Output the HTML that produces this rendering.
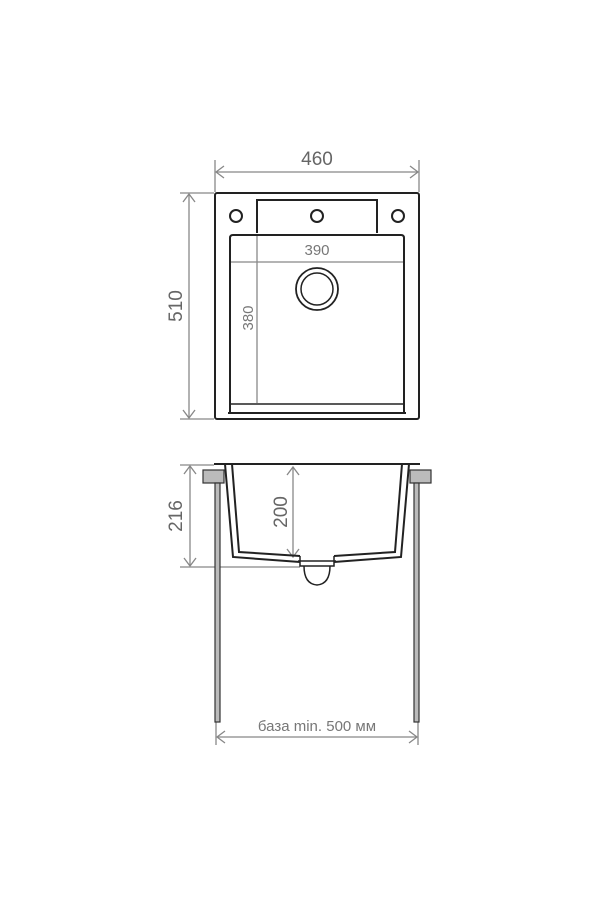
<!DOCTYPE html>
<html><head><meta charset="utf-8"><style>body{margin:0;background:#fff}svg{display:block}</style></head><body>
<svg width="600" height="900" viewBox="0 0 600 900" xmlns="http://www.w3.org/2000/svg" font-family="Liberation Sans, sans-serif">
<g stroke="#888" stroke-width="1.3" fill="none">
<line x1="215" y1="160" x2="215" y2="192"/><line x1="419" y1="160" x2="419" y2="192"/>
<line x1="216" y1="172" x2="418" y2="172"/>
<polyline points="224,166 216,172 224,178"/><polyline points="410,166 418,172 410,178"/>
<line x1="180" y1="193" x2="214" y2="193"/><line x1="180" y1="419" x2="214" y2="419"/>
<line x1="189" y1="194" x2="189" y2="418"/>
<polyline points="183,202 189,194 195,202"/><polyline points="183,410 189,418 195,410"/>
<line x1="231" y1="262" x2="403" y2="262"/>
<line x1="257" y1="236" x2="257" y2="403"/>
<line x1="180" y1="465" x2="214" y2="465"/><line x1="180" y1="567" x2="300" y2="567"/>
<line x1="190" y1="466" x2="190" y2="566"/>
<polyline points="184,474 190,466 196,474"/><polyline points="184,558 190,566 196,558"/>
<line x1="293" y1="467" x2="293" y2="557"/>
<polyline points="287,475 293,467 299,475"/><polyline points="287,549 293,557 299,549"/>
<line x1="216" y1="722" x2="216" y2="745"/><line x1="418" y1="722" x2="418" y2="745"/>
<line x1="217" y1="737" x2="417" y2="737"/>
<polyline points="225,731 217,737 225,743"/><polyline points="409,731 417,737 409,743"/>
</g>
<g fill="#666" font-size="19" text-anchor="middle">
<text x="317" y="165">460</text>
<text transform="translate(182,306) rotate(-90)">510</text>
<text transform="translate(182,516) rotate(-90)">216</text>
<text transform="translate(287,512) rotate(-90)">200</text>
</g>
<g fill="#777" font-size="15" text-anchor="middle">
<text x="317" y="255">390</text>
<text transform="translate(253,318) rotate(-90)">380</text>
<text x="317" y="731">база min. 500 мм</text>
</g>
<g stroke="#222" stroke-width="2" fill="none">
<rect x="215" y="193" width="204" height="226" rx="2"/>
<polyline points="257,233 257,200 377,200 377,233"/>
<circle cx="236" cy="216" r="6"/><circle cx="317" cy="216" r="6"/><circle cx="398" cy="216" r="6"/>
<path d="M230,412 V238 Q230,235 233,235 H401 Q404,235 404,238 V412"/>
<line x1="231" y1="404" x2="403" y2="404" stroke-width="1.5"/>
<line x1="228" y1="413" x2="406" y2="413"/>
<circle cx="317" cy="289" r="21" stroke-width="1.8"/><circle cx="317" cy="289" r="16" stroke-width="1.5"/>
<line x1="214" y1="464" x2="420" y2="464"/>
<path d="M225,464 L233,557 L300,562" stroke-width="2"/>
<path d="M232,464 L239,552 L300,556" stroke-width="2"/>
<path d="M409,464 L401,557 L334,562" stroke-width="2"/>
<path d="M402,464 L395,552 L334,556" stroke-width="2"/>
<path d="M298,561 H336 M300,556 V566 H334 V556" stroke-width="1.5"/>
<path d="M304,566 Q304,584 317,585 Q330,584 330,566" stroke-width="1.5"/>
</g>
<g stroke="#333" stroke-width="1.2" fill="#bbb">
<rect x="203" y="470" width="21" height="13"/>
<rect x="410" y="470" width="21" height="13"/>
<rect x="215" y="483" width="5" height="239"/>
<rect x="414" y="483" width="5" height="239"/>
</g>
</svg>
</body></html>
